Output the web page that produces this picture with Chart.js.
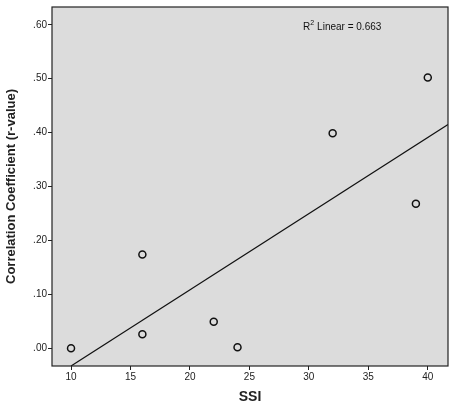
<!DOCTYPE html>
<html><head><meta charset="utf-8">
<script src="https://cdn.jsdelivr.net/npm/chart.js@4"></script>
<style>html,body{margin:0;background:#fff}#w{width:474px;height:410px}</style>
</head><body><div id="w"><canvas id="c"></canvas></div>
<script>
const ssi = [10, 16, 16, 22, 24, 32, 39, 40];
const rValue = [0.0, 0.174, 0.026, 0.049, 0.002, 0.399, 0.268, 0.502];
const fitX = [10, 41.7];
const fitY = [-0.033, 0.415];
const xTicks = [10, 15, 20, 25, 30, 35, 40];
const yTicks = [0, 0.1, 0.2, 0.3, 0.4, 0.5, 0.6];
const r2Label = 'Linear = 0.663';

const bg = {id:'bg', beforeDraw(ch){const a=ch.chartArea,c=ch.ctx;c.save();c.fillStyle='#dcdcdc';c.fillRect(a.left,a.top,a.right-a.left,a.bottom-a.top);c.restore();},
 afterDraw(ch){const a=ch.chartArea,c=ch.ctx;c.save();c.strokeStyle='#222';c.lineWidth=1.2;c.strokeRect(a.left,a.top,a.right-a.left,a.bottom-a.top);
  c.fillStyle='#111';c.font='10px "Liberation Sans"';c.textBaseline='alphabetic';
  let x=303,y=30;c.fillText('R',x,y);x+=c.measureText('R').width;c.font='7px "Liberation Sans"';c.fillText('2',x,y-5);x+=c.measureText('2').width+3;
  c.font='10px "Liberation Sans"';c.fillText(r2Label,x,y);c.restore();}};

const gridOpt = {display:true,drawOnChartArea:false,drawTicks:true,tickLength:4,color:'#222'};
new Chart(document.getElementById('c'),{
 type:'scatter',
 data:{datasets:[
  {data:ssi.map((v,i)=>({x:v,y:rValue[i]})),pointStyle:'circle',pointRadius:3.5,borderColor:'#111',backgroundColor:'rgba(0,0,0,0)',borderWidth:1.5,showLine:false},
  {data:fitX.map((v,i)=>({x:v,y:fitY[i]})),showLine:true,pointRadius:0,borderColor:'#111',borderWidth:1.2}
 ]},
 plugins:[bg],
 options:{responsive:true,maintainAspectRatio:false,animation:false,
  layout:{padding:{top:4,right:26,left:0,bottom:0}},
  plugins:{legend:{display:false},tooltip:{enabled:false}},
  scales:{
   x:{type:'linear',min:8.4,max:41.7,grid:gridOpt,border:{display:false},
      afterBuildTicks(s){s.ticks=xTicks.map(v=>({value:v}));},
      afterFit(s){s.height=44;},
      ticks:{color:'#222',font:{family:'Liberation Sans',size:10},padding:1},
      title:{display:true,text:'SSI',color:'#222',font:{family:'Liberation Sans',size:14,weight:'bold'},padding:{top:9}}},
   y:{min:-0.033,max:0.633,grid:gridOpt,border:{display:false},
      afterBuildTicks(s){s.ticks=yTicks.map(v=>({value:v}));},
      afterFit(s){s.width=52;},
      ticks:{color:'#222',font:{family:'Liberation Sans',size:10},padding:1,callback:v=>v.toFixed(2).replace(/^0/,'')},
      title:{display:true,text:'Correlation Coefficient (r-value)',color:'#222',font:{family:'Liberation Sans',size:13,weight:'bold'},padding:{bottom:2}}}
  }}
});
</script></body></html>
